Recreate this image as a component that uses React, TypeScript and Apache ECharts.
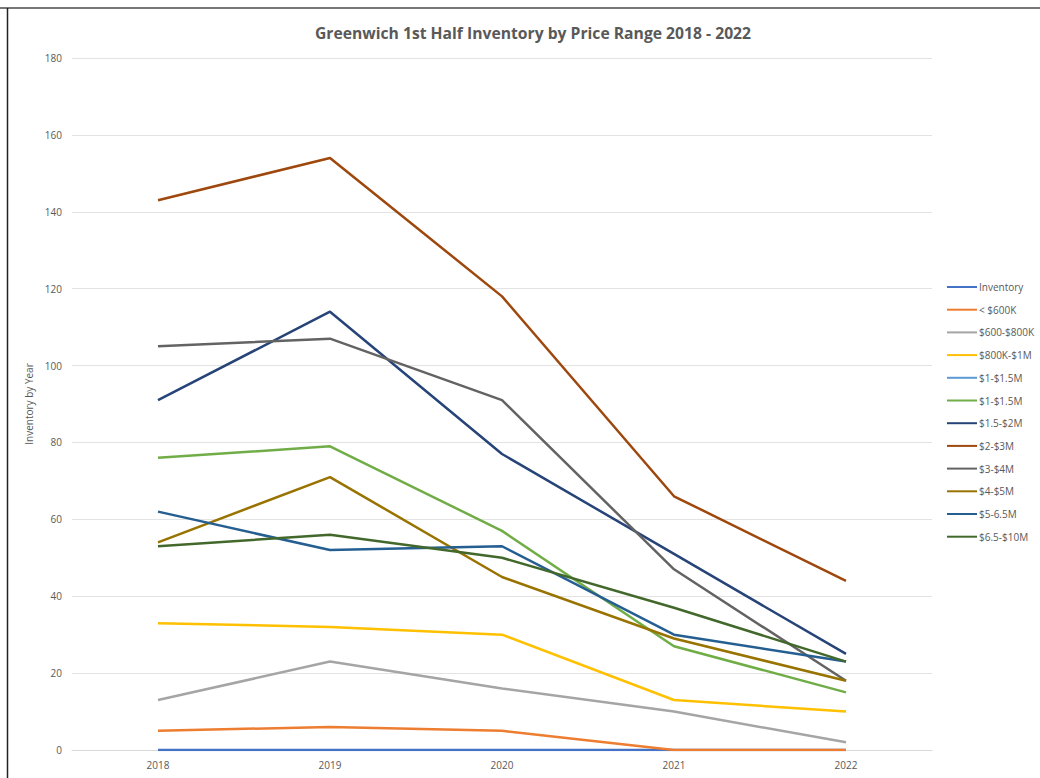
import React, { useEffect, useRef } from "react";
import * as echarts from "echarts";

const years = ["2018", "2019", "2020", "2021", "2022"];
const seriesNames = [
  "Inventory",
  "< $600K",
  "$600-$800K",
  "$800K-$1M",
  "$1-$1.5M ",
  "$1-$1.5M",
  "$1.5-$2M",
  "$2-$3M",
  "$3-$4M",
  "$4-$5M",
  "$5-6.5M",
  "$6.5-$10M",
];
const inventory = [0, 0, 0, 0, 0];
const under600k = [5, 6, 5, 0, 0];
const k600to800 = [13, 23, 16, 10, 2];
const k800to1m = [33, 32, 30, 13, 10];
const m1to15a: (number | null)[] = [null, null, null, null, null];
const m1to15 = [76, 79, 57, 27, 15];
const m15to2 = [91, 114, 77, 51, 25];
const m2to3 = [143, 154, 118, 66, 44];
const m3to4 = [105, 107, 91, 47, 18];
const m4to5 = [54, 71, 45, 29, 18];
const m5to65 = [62, 52, 53, 30, 23];
const m65to10 = [53, 56, 50, 37, 23];
const seriesValues = [
  inventory, under600k, k600to800, k800to1m, m1to15a, m1to15,
  m15to2, m2to3, m3to4, m4to5, m5to65, m65to10,
];
const colors = [
  "#4472C4", "#ED7D31", "#A5A5A5", "#FFC000", "#5B9BD5", "#70AD47",
  "#264478", "#9E480E", "#636363", "#997300", "#255E91", "#43682B",
];

export default function App() {
  const ref = useRef<HTMLDivElement>(null);
  useEffect(() => {
    if (!ref.current) return;
    const chart = echarts.init(ref.current, null, { renderer: "svg" });
    chart.setOption({
      animation: false,
      backgroundColor: "#ffffff",
      color: colors,
      title: {
        text: "Greenwich 1st Half Inventory by Price Range 2018 - 2022",
        left: 528,
        textAlign: "center",
        top: 20,
        textStyle: {
          fontFamily: "Open Sans",
          fontSize: 15.7,
          fontWeight: "bold",
          color: "#595959",
        },
      },
      graphic: [
        { type: "line", shape: { x1: 0, y1: 8, x2: 1040, y2: 8 }, style: { stroke: "#777777", lineWidth: 2 } },
        { type: "line", shape: { x1: 7.5, y1: 8, x2: 7.5, y2: 778 }, style: { stroke: "#222222", lineWidth: 1.5 } },
      ],
      legend: {
        orient: "vertical",
        left: 942,
        top: 277,
        itemGap: 12.7,
        itemWidth: 30,
        itemHeight: 10,
        data: seriesNames.map((n, i) => ({
          name: n,
          icon: "path://M0,6 L30,6 L30,8 L0,8 Z",
          itemStyle: { color: colors[i] },
        })),
        textStyle: { fontFamily: "Open Sans", fontSize: 10, color: "#595959", padding: [0, 0, 0, -3] },
      },
      grid: { left: 72, right: 108, top: 58, bottom: 28, containLabel: false },
      xAxis: {
        type: "category",
        data: years,
        boundaryGap: true,
        axisLine: { lineStyle: { color: "#d9d9d9" } },
        axisTick: { show: false },
        axisLabel: { fontFamily: "Open Sans", fontSize: 10, color: "#595959", margin: 10 },
      },
      yAxis: {
        type: "value",
        min: 0,
        max: 180,
        interval: 20,
        name: "Inventory by Year",
        nameLocation: "middle",
        nameGap: 32,
        nameTextStyle: { fontFamily: "Open Sans", fontSize: 10, color: "#595959" },
        axisLine: { show: false },
        axisTick: { show: false },
        axisLabel: { fontFamily: "Open Sans", fontSize: 10, color: "#595959", margin: 10 },
        splitLine: { lineStyle: { color: "#e3e3e3" } },
      },
      series: seriesNames.map((n, i) => ({
        name: n,
        type: "line",
        data: seriesValues[i],
        showSymbol: false,
        symbol: "none",
        lineStyle: { width: 2.5, color: colors[i] },
        itemStyle: { color: colors[i] },
      })),
    });
    return () => chart.dispose();
  }, []);
  return (
    <div
      ref={ref}
      style={{ position: "absolute", left: 0, top: 0, width: 1040, height: 778 }}
    />
  );
}
